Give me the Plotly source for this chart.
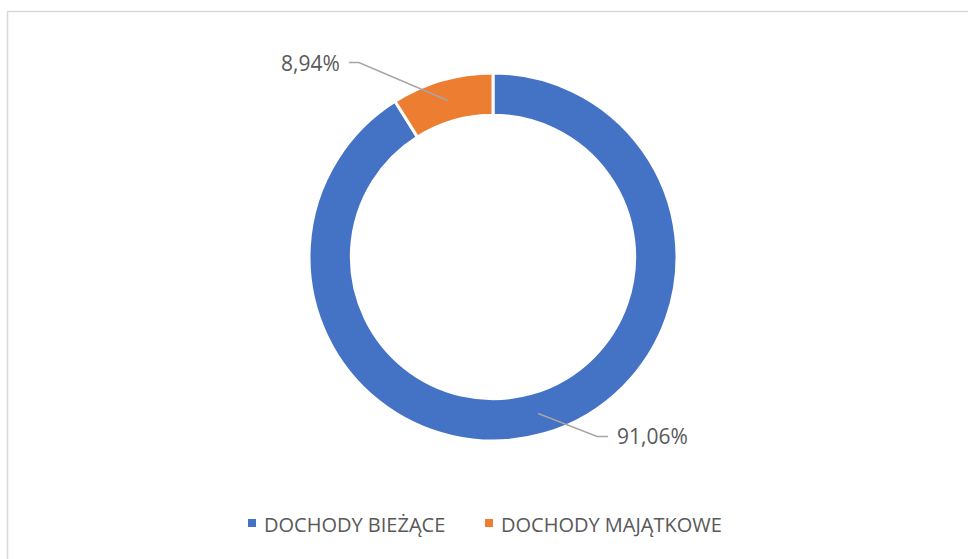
import math
import plotly.graph_objects as go

labels = ["DOCHODY BIEŻĄCE", "DOCHODY MAJĄTKOWE"]
values = [91.06, 8.94]
value_texts = ["91,06%", "8,94%"]
colors = ["#4472C4", "#ED7D31"]

W, H = 968, 559
CX, CY, R = 493, 257, 184
HOLE = 0.77
# label elbow offsets (px) from slice-midpoint anchor, and side of text
label_offsets = [(59, 23, "left"), (-89, -38, "right")]
# custom legend layout (px): square left edges and text left edges
legend_sq_x = [248, 485]
legend_txt_x = [265, 502]
LEG_Y, SQ = 523, 8

fig = go.Figure()
fig.add_trace(go.Pie(
    labels=labels, values=values, sort=False, direction="clockwise", rotation=0,
    hole=HOLE, textinfo="none", hoverinfo="label+percent", showlegend=False,
    marker=dict(colors=colors, line=dict(color="white", width=3)),
    domain=dict(x=[(CX - R) / W, (CX + R) / W], y=[(H - CY - R) / H, (H - CY + R) / H]),
))

def px(x, y):
    return x / W, 1 - y / H

shapes = [dict(type="rect", xref="paper", yref="paper",
               x0=7.5 / W, x1=1.05, y0=1 - 11.5 / H, y1=-0.05,
               line=dict(color="#d9d9d9", width=1.5), fillcolor="rgba(0,0,0,0)")]
annotations = []
total = sum(values)
cum = 0.0
rmid = R * (1 + HOLE) / 2
for v, t, (dx, dy, side) in zip(values, value_texts, label_offsets):
    mid = (cum + v / 2) / total * 2 * math.pi
    cum += v
    ax = CX + rmid * math.sin(mid)
    ay = CY - rmid * math.cos(mid)
    ex, ey = ax + dx, ay + dy
    hx = ex + (11 if side == "left" else -10)
    x1, y1 = px(ax, ay)
    x2, y2 = px(ex, ey)
    x3, y3 = px(hx, ey)
    shapes.append(dict(type="path", xref="paper", yref="paper",
                       path=f"M{x1},{y1} L{x2},{y2} L{x3},{y3}",
                       line=dict(color="#a6a6a6", width=1.5)))
    tx = hx + (7 if side == "left" else -7)
    annotations.append(dict(x=tx / W, y=1 - ey / H, xref="paper", yref="paper",
                            text=t, showarrow=False,
                            xanchor="left" if side == "left" else "right", yanchor="middle",
                            font=dict(size=21, color="#595959", family="Open Sans")))

for lab, col, sx, tx in zip(labels, colors, legend_sq_x, legend_txt_x):
    shapes.append(dict(type="rect", xref="paper", yref="paper",
                       x0=sx / W, x1=(sx + SQ) / W,
                       y0=1 - (LEG_Y - SQ / 2) / H, y1=1 - (LEG_Y + SQ / 2) / H,
                       line=dict(width=0), fillcolor=col))
    annotations.append(dict(x=(tx - 3) / W, y=1 - (LEG_Y + 1) / H, xref="paper", yref="paper",
                            text=lab, showarrow=False, xanchor="left", yanchor="middle",
                            font=dict(size=20, color="#595959", family="Open Sans")))

fig.update_layout(
    width=W, height=H, margin=dict(l=0, r=0, t=0, b=0),
    paper_bgcolor="white", plot_bgcolor="white",
    font=dict(family="Open Sans", color="#595959"),
    showlegend=False,
    shapes=shapes, annotations=annotations,
)
fig.write_html("out.html")
